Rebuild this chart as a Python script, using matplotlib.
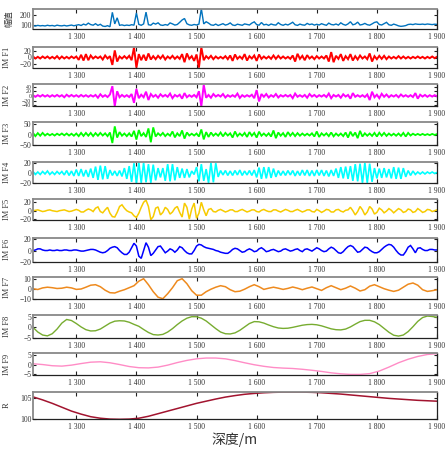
import numpy as np
import matplotlib
matplotlib.use('Agg')
import matplotlib.pyplot as plt
from matplotlib.ticker import FixedLocator, FuncFormatter

# ---------------- data ----------------
depth_start, depth_end = 1228, 1900
xticks = [1300, 1400, 1500, 1600, 1700, 1800, 1900]

amplitude = [92,88,95,90,93,89,96,91,94,88,97,92,90,95,89,93,98,91,
             96,102,94,108,99,118,103,97,112,95,106,88,84,92,81,
             228,110,172,
             96,100,93,98,94,102,97,
             222,
             105,96,110,
             230,
             102,97,118,108,121,
             99,95,103,97,
             120,110,
             98,104,126,150,
             165,112,100,96,104,
             99,108,
             265,
             110,132,118,
             100,96,108,94,103,112,98,105,120,99,94,107,101,96,110,104,99,118,131,
             103,97,124,100,106,95,109,101,98,122,104,96,107,99,112,127,101,95,108,100,97,115,103,109,98,
             106,99,112,103,96,118,104,100,109,98,121,105,97,110,132,101,108,128,99,104,115,102,97,110,125,
             131,104,99,112,126,101,96,108,100,90,85,88,93,
             104,107,103,110,106,105,108,104,109,106,103,107,105]

imf1 = [3,-3,2,-3,3,-2,3,-3,2,-3,
        4,-4,3,-3,2,-3,3,-2,3,
        -7,8,-9,10,-8,6,
        -3,3,-2,3,
        -6,6,
        -3,4,
        -22,21,-12,
        3,-3,4,-3,5,-8,
        30,-30,10,
        -8,8,-9,12,
        -6,4,
        -5,5,
        -3,
        6,-6,
        3,-3,
        5,-4,
        3,-4,
        10,-14,12,
        -4,4,
        -10,9,
        -30,30,-8,
        4,-3,
        5,-5,
        3,-3,2,-3,4,-5,6,
        -10,9,
        -4,3,-4,
        10,-9,
        4,-3,6,
        -10,9,
        -4,3,-3,3,-4,
        6,-4,5,
        -3,3,-3,2,-4,6,
        -12,11,
        -4,5,
        -8,7,
        -3,3,
        -5,
        4,-3,3,-3,6,
        -12,16,-14,
        5,-4,
        10,-10,
        4,-5,
        10,-9,
        4,-6,6,
        -3,3,-5,
        12,-12,
        4,
        -5,5,-4,5,-5,
        3,-3,2,-3,
        4,
        -3,3,
        -3,
        2,-3,2,-2,
        3,
        -2,2,-3,2,-2,3,-2,2]

imf2 = [3,-4,3,-3,4,-3,3,-4,3,-3,4,-3,3,
        -6,5,
        -3,4,-3,3,-4,4,-3,3,-4,3,-3,4,
        -8,7,
        -4,3,-5,6,
        42,-44,20,
        -6,4,-4,3,-5,8,
        -30,30,-10,
        5,-6,
        18,-18,8,
        -4,4,
        -8,7,
        -3,4,-4,
        10,-10,
        4,-3,5,
        -12,12,-6,
        3,-4,4,-6,
        20,-45,48,
        -8,4,
        -8,8,
        -3,4,-3,
        8,-7,
        3,-4,3,-4,
        10,-9,
        3,-4,3,-3,5,
        -10,25,-24,
        8,-4,
        8,-7,
        3,-4,
        8,-7,
        3,-3,4,-3,4,
        -10,10,
        -4,3,-4,4,
        -8,8,
        -3,4,
        -5,
        3,-3,4,-5,
        10,-10,
        4,-3,4,
        -8,7,
        -3,4,
        -12,12,
        -4,3,-4,3,-5,6,
        -18,18,
        -6,5,
        -10,9,
        -4,
        6,-6,
        3,-3,4,
        -6,6,
        -3,3,-4,3,-5,
        12,-12,
        5,-3,
        4,-4,
        3,-3,3,-2]

imf3 = [8,-8,7,-6,8,-5,
        4,-4,3,-5,4,-3,5,-4,
        5,-5,4,-6,5,
        -8,8,-7,8,
        -6,8,-8,7,-6,8,
        -5,6,-8,10,
        -42,40,-15,
        12,-6,5,-8,6,-10,
        18,-25,22,
        -8,7,-12,
        30,-38,35,
        -10,6,-5,
        8,-8,
        4,-6,
        15,-14,
        6,-8,
        20,-20,10,
        -5,4,-5,
        5,-10,
        25,-24,
        12,-12,10,
        -6,5,-6,
        10,-9,8,
        -5,6,
        -15,15,-8,
        5,-6,8,
        -12,12,
        -6,8,
        -15,14,
        -6,5,-7,6,-10,
        20,-18,10,
        -6,7,
        -12,12,-6,
        8,-8,7,-6,5,
        -5,4,-5,6,
        -10,15,-12,
        6,-5,6,-8,
        10,-9,
        5,-6,5,-8,10,
        -15,14,
        -8,10,
        -18,18,-10,
        6,-6,5,-7,8,
        -10,9,
        -6,8,-7,5,
        -5,4,-6,5,-7,8,
        -10,8,
        -5,4,-3,3,-3,
        3,-3,2,-3,3,-2,2]

imf4 = [3,-3,2,-3,3,-2,4,-3,2,-3,3,-2,3,-4,
        5,-5,4,-6,
        7,-6,8,-7,6,-8,9,-10,
        13,-14,15,-13,14,-12,
        6,-5,4,-6,5,-7,
        10,-12,14,-18,20,
        -21,22,-20,21,-19,18,-20,17,-15,
        10,-9,10,
        -16,18,-17,18,-15,12,
        -10,9,-10,8,-9,
        4,-3,
        12,-17,18,-16,
        8,
        -20,21,-19,20,
        -8,5,-4,5,-5,4,-5,5,-4,6,-5,4,-4,5,-5,6,
        -9,11,-12,12,-11,12,-10,9,-8,
        5,-5,4,-5,5,-4,5,-6,4,
        -5,6,-5,6,-6,5,-6,6,-5,6,-6,5,-7,6,-6,
        9,-10,12,-11,13,-12,14,
        -16,18,-17,19,-20,21,-20,19,-18,
        10,-11,9,-10,10,-9,8,
        -11,12,-12,11,-12,10,-8,
        5,-5,4,
        -3,2,-2,2,-2,2,-1,2,-1,1]

imf5 = [0,1,2,0,-2,-1,1,2,0,-1,
        -2,0,1,2,0,-2,-1,1,3,1,
        -3,-3,1,4,2,-2,6,9,-2,-5,
        2,8,-6,-14,-15,-4,10,14,6,0,
        -3,-5,-12,-16,-6,8,20,25,10,-21,
        -14,6,9,-10,-4,8,3,-8,-3,6,
        10,-4,-15,18,8,-20,4,18,-18,-6,
        20,2,-12,3,5,-2,-3,
        1,3,0,-3,-1,2,2,-2,-2,1,3,0,-3,-1,2,2,-2,-3,1,3,
        0,-2,-2,2,2,-1,-3,0,3,1,-2,-2,1,3,0,-3,-1,2,2,-2,-3,
        3,0,-4,-1,3,2,-3,-3,2,3,-1,-3,1,2,
        8,0,-10,-2,10,2,-10,-3,10,4,-8,-4,6,2,
        -5,-1,5,1,-5,0,5,2,-4,-2,4,2,-4,-2,5,1,-4,-2,3,2,-2,0,2]

imf6 = [0,1,3,3,1,0,0,1,0,0,
        1,0,0,1,1,0,0,1,1,0,
        -1,-1,0,1,2,2,1,-1,-3,-4,
        -3,0,4,6,7,5,0,-4,-7,-7,
        -3,5,13,8,-10,-14,0,14,6,-9,
        -5,1,7,8,2,-4,-1,3,1,-3,
        1,7,5,0,-4,-6,-6,0,8,11,
        10,7,5,4,3,2,0,-1,-3,-4,
        -5,-5,-2,2,4,3,0,-3,-2,1,
        3,1,-2,-1,3,5,2,-2,-1,1,
        2,0,-2,-1,2,3,1,-1,0,2,
        3,0,-2,2,3,1,-1,2,5,3,
        0,-2,-1,3,6,4,0,-4,-5,-2,
        3,7,9,7,2,-3,-2,2,6,5,
        1,-2,-4,-4,-2,2,6,9,11,10,
        6,0,-5,-8,-8,-2,6,9,3,-4,
        4,5,2,0,0,2,2,1,1]

imf7 = [0,-0.8,0.8,1.5,1,0.2,0.5,1.5,0.8,-0.7,
        -0.3,1.5,3.5,4,2,-1.5,-4,-4.3,-2.5,-1,
        1,3,7.5,10,4,-3,-8.5,-10,-5,1,
        8,10,5,-2,-6.5,-6.5,-3,-0.5,1.5,3,
        2,-1,-3,-2.5,-0.5,2,4,2,-0.7,0.5,
        1.5,0.5,-0.7,0.3,1.7,0.5,-1,0.5,1.7,0,
        -1.7,1,3,1,-1,0.5,2.7,0.5,-2.3,-1,
        2.5,4,2,0,-1.5,-2.7,-1.5,1.5,4.5,5.7,
        3.5,-1,-2.7,-2,-1]

imf8 = [0,-2.2,-3.6,-4,-3,-0.8,2,3.7,3.2,1.8,
        0.2,-1.1,-1.7,-1.6,-0.8,0.6,2,2.9,3.1,3,
        2.4,1.4,0.5,-1,-2.4,-3.4,-3.6,-3.3,-2.2,-0.6,
        1.3,3,4.3,5,5,4.3,3,1.2,-0.6,-2.2,
        -3,-3.1,-2.6,-1.4,0.2,1.8,2.7,2.6,2,1.1,
        0.3,-0.3,-0.5,-0.4,0,0.5,1,1.3,1.4,1.2,
        0.7,0,-0.7,-1.1,-1.2,-0.8,0.2,1.5,2.7,3.3,
        3.3,2.6,1.3,-0.5,-2.3,-3.7,-4.1,-3.6,-2,0.3,
        2.8,4.6,5.3,5.1,4.7]

imf9 = [0.4,0,-0.6,-0.8,-0.3,0.5,1.2,1.4,0.9,0,
        -1,-1.6,-1.7,-1.3,-0.3,1,2.1,2.9,3.3,3.3,
        2.9,2,0.9,-0.1,-0.9,-1.5,-1.8,-2,-2.4,-2.9,
        -3.5,-4.2,-4.7,-5,-5,-4.6,-3.3,-1.3,0.9,2.7,
        4.1,5.1,5.5]

residual = [105.2,104.5,103.7,102.8,101.9,101.2,100.6,100.25,100.05,100.0,
            100.05,100.25,100.7,101.3,101.9,102.5,103.1,103.7,104.2,104.7,
            105.15,105.5,105.8,106.0,106.15,106.25,106.3,106.3,106.3,106.25,
            106.15,106.0,105.85,105.65,105.45,105.25,105.05,104.85,104.7,104.55,
            104.4,104.3,104.2]

labels = ['幅值', 'IM F1', 'IM F2', 'IM F3', 'IM F4', 'IM F5',
          'IM F6', 'IM F7', 'IM F8', 'IM F9', 'R']
series = [amplitude, imf1, imf2, imf3, imf4, imf5, imf6, imf7, imf8, imf9, residual]
yticks = [[100, 200], [-20, 0, 20], [-40, -20, 0, 20, 40], [-50, 0, 50],
          [-20, 0, 20], [-20, 0, 20], [-20, 0, 20], [-10, 0, 10],
          [-5, 0, 5], [-5, 0, 5], [100, 105]]

# ---------------- styling / layout ----------------
colors = ['#0072BD', '#FF0000', '#FF00FF', '#00FF00', '#00FFFF', '#F7CB00',
          '#0000FF', '#EE8A1E', '#77AC30', '#FF8CC6', '#A2142F']
ylims = [(55, 265), (-32, 32), (-45, 50), (-50, 60), (-21, 23), (-22, 27),
         (-20, 23), (-10, 12), (-5, 5.8), (-5.3, 5.7), (100, 106.4)]
lws = [1.0, 1.4, 1.4, 1.3, 1.2, 1.1, 1.1, 1.1, 1.0, 1.0, 1.1]
tick_sizes = [5.5, 5.5, 4.2, 5.5, 5.5, 5.5, 5.5, 5.5, 5.5, 5.5, 5.5]
label_x = [13, 11, 11, 11, 11, 11, 11, 11, 11, 11, 11]
# panel (top, bottom) in pixels
boxes = [(8.7, 29.3), (46.7, 68.3), (84.3, 106.3), (122.3, 144.7), (161.7, 183.3),
         (199.3, 220.0), (237.7, 261.7), (276.7, 298.7), (315.0, 338.0),
         (353.3, 375.0), (391.7, 419.3)]

W, H = 446, 455
fig = plt.figure(figsize=(W / 100, H / 100), dpi=100)
serif = ['Liberation Serif', 'DejaVu Serif']
cjk = ['Noto Sans CJK SC', 'DejaVu Sans']
left_px, right_px = 33, 437

xfmt = FuncFormatter(lambda v, p: f"{int(v) // 1000} {int(v) % 1000:03d}")

for k, (vals, col, lab, ylim, yt, lw, ts, lx, (t, b)) in enumerate(
        zip(series, colors, labels, ylims, yticks, lws, tick_sizes, label_x, boxes)):
    ax = fig.add_axes([left_px / W, 1 - b / H, (right_px - left_px) / W, (b - t) / H])
    x = np.linspace(depth_start, depth_end, len(vals))
    ax.plot(x, vals, color=col, lw=lw, solid_joinstyle='miter')
    ax.set_xlim(depth_start, depth_end)
    ax.set_ylim(*ylim)
    ax.xaxis.set_major_locator(FixedLocator(xticks))
    ax.xaxis.set_major_formatter(xfmt)
    ax.yaxis.set_major_locator(FixedLocator(yt))
    ax.tick_params(axis='both', direction='in', top=True, right=True,
                   width=0.8, colors='#222222')
    ax.tick_params(axis='x', length=3, pad=3, labelsize=5.5)
    ax.tick_params(axis='y', length=2, pad=1.2, labelsize=ts)
    for lbl in ax.get_xticklabels() + ax.get_yticklabels():
        lbl.set_family(serif)
        lbl.set_color('#333333')
    for side, sp in ax.spines.items():
        if side in ('top', 'left'):
            sp.set_color('#888888')
            sp.set_linewidth(1.3)
        else:
            sp.set_color('#222222')
            sp.set_linewidth(0.9)
    fam = cjk if k == 0 else serif
    ax.set_ylabel(lab, family=fam, fontsize=6, color='#333333')
    ax.yaxis.set_label_coords(-(left_px - lx) / (right_px - left_px), 0.5)
    if k == len(series) - 1:
        ax.set_xlabel('深度/m', family=cjk, fontsize=10, color='#333333')
        ax.xaxis.set_label_coords(0.5, -(432 - b) / (b - t))

fig.savefig('out.png', dpi=100)
